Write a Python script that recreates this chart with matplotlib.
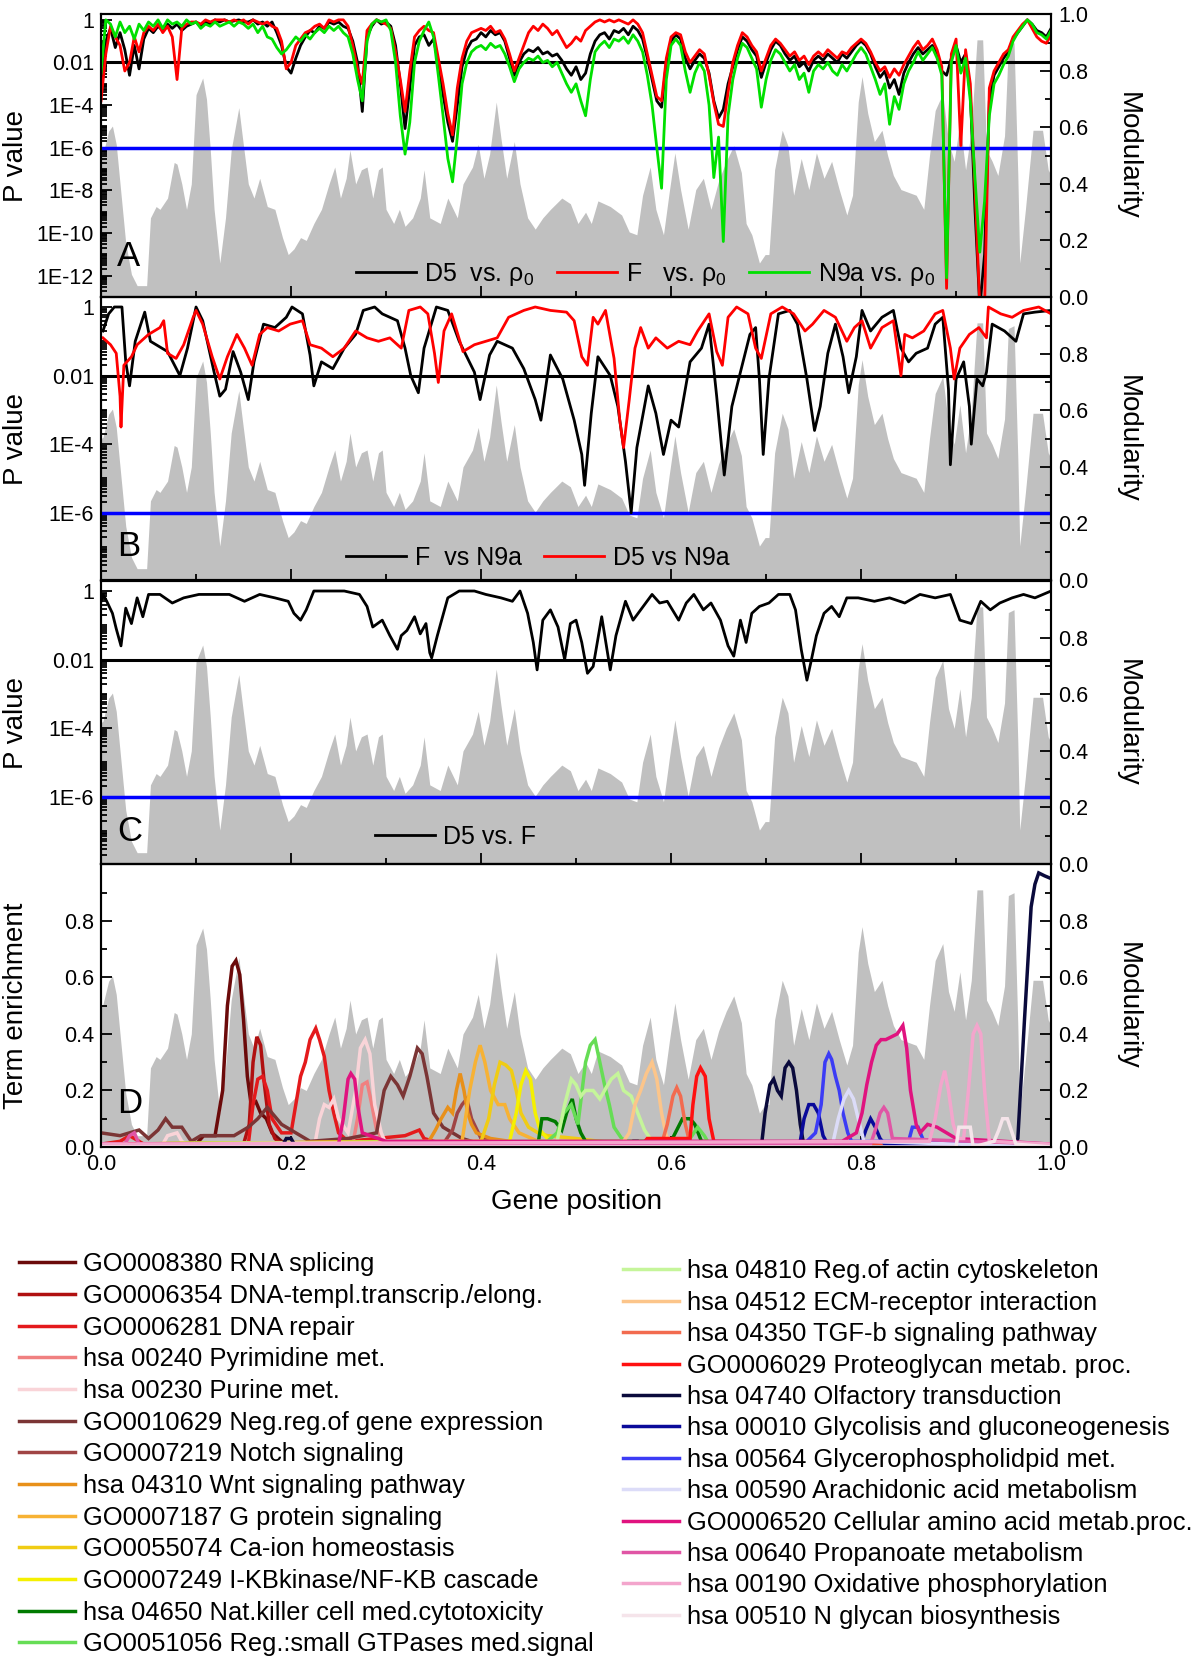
import numpy as np
import matplotlib
matplotlib.use("Agg")
import matplotlib.pyplot as plt
from matplotlib.ticker import FixedLocator, LogLocator, MultipleLocator, NullFormatter

plt.rcParams['font.family'] = ['Liberation Sans', 'DejaVu Sans']
plt.rcParams['mathtext.fontset'] = 'custom'
plt.rcParams['mathtext.rm'] = 'Liberation Sans'
plt.rcParams['mathtext.it'] = 'Liberation Sans:italic'
plt.rcParams['mathtext.default'] = 'regular'

# ---- modularity profile (grey background, same in every panel) ----
mod_x = [0.0, 0.002, 0.008, 0.012, 0.016, 0.02, 0.026, 0.032, 0.038, 0.048,
         0.052, 0.058, 0.062, 0.07, 0.077, 0.08, 0.085, 0.09, 0.095, 0.1,
         0.107, 0.111, 0.115, 0.119, 0.125, 0.131, 0.137, 0.145, 0.149, 0.155,
         0.161, 0.167, 0.175, 0.183, 0.191, 0.197, 0.203, 0.21, 0.216, 0.224,
         0.232, 0.24, 0.246, 0.252, 0.258, 0.262, 0.268, 0.274, 0.28, 0.286,
         0.292, 0.296, 0.3, 0.308, 0.314, 0.32, 0.328, 0.336, 0.34, 0.346,
         0.357, 0.365, 0.375, 0.381, 0.391, 0.397, 0.403, 0.409, 0.416, 0.421,
         0.427, 0.435, 0.441, 0.449, 0.457, 0.465, 0.473, 0.485, 0.494, 0.502,
         0.51, 0.516, 0.523, 0.536, 0.548, 0.556, 0.564, 0.57, 0.578, 0.584,
         0.592, 0.598, 0.604, 0.61, 0.618, 0.626, 0.634, 0.642, 0.65, 0.658,
         0.666, 0.674, 0.679, 0.685, 0.693, 0.699, 0.703, 0.709, 0.717, 0.723,
         0.729, 0.737, 0.745, 0.753, 0.761, 0.769, 0.777, 0.785, 0.791, 0.797,
         0.801, 0.807, 0.814, 0.822, 0.828, 0.834, 0.842, 0.85, 0.858, 0.866,
         0.872, 0.878, 0.886, 0.892, 0.898, 0.904, 0.91, 0.916, 0.922, 0.928,
         0.932, 0.938, 0.944, 0.951, 0.955, 0.961, 0.965, 0.967, 0.973, 0.981,
         0.991, 0.997, 1.0]
mod_y = [0.50, 0.505, 0.587, 0.605, 0.54, 0.40, 0.19, 0.08, 0.04, 0.04,
         0.28, 0.32, 0.31, 0.35, 0.476, 0.47, 0.40, 0.31, 0.40, 0.716,
         0.775, 0.70, 0.52, 0.31, 0.12, 0.28, 0.52, 0.67, 0.56, 0.40,
         0.35, 0.42, 0.32, 0.31, 0.21, 0.15, 0.17, 0.21, 0.20, 0.26,
         0.31, 0.40, 0.46, 0.35, 0.42, 0.52, 0.40, 0.45, 0.46, 0.35,
         0.45, 0.46, 0.31, 0.26, 0.31, 0.25, 0.28, 0.35, 0.45, 0.28,
         0.26, 0.35, 0.28, 0.40, 0.46, 0.54, 0.42, 0.505, 0.69, 0.56,
         0.42, 0.55, 0.40, 0.28, 0.24, 0.28, 0.31, 0.35, 0.33, 0.26,
         0.30, 0.26, 0.34, 0.32, 0.29, 0.23, 0.22, 0.36, 0.46, 0.31,
         0.22, 0.37, 0.51, 0.38, 0.24, 0.38, 0.42, 0.31, 0.41, 0.48,
         0.535, 0.44, 0.26, 0.22, 0.12, 0.15, 0.15, 0.45, 0.59, 0.535,
         0.36, 0.49, 0.38, 0.51, 0.42, 0.48, 0.38, 0.29, 0.36, 0.69,
         0.78, 0.65, 0.55, 0.59, 0.50, 0.43, 0.38, 0.37, 0.36, 0.31,
         0.50, 0.66, 0.72, 0.55, 0.48, 0.62, 0.45, 0.59, 0.91, 0.91,
         0.52, 0.48, 0.43, 0.57, 0.89, 0.90, 0.43, 0.12, 0.31, 0.59,
         0.59, 0.45, 0.43]

# ---- panel A: log10(P) on a 0.005 grid ----
grid_a = np.linspace(0, 1, 201)
a_d5 = [-3.0, -1.0, -0.4, -1.3, -0.6, -1.4, -2.6, -1.2, -2.3, -0.9, -0.4, -0.6, -0.3, -0.5, -0.2, -0.4, -0.2, -0.5, -0.3, -0.2,
        -0.1, -0.3, -0.1, -0.2, 0.0, -0.1, 0.0, -0.1, -0.05, 0.0, -0.1, -0.1, 0.0, -0.2, -0.1, -0.3, -0.1, -0.6, -1.2, -2.2,
        -2.5, -1.8, -1.2, -0.8, -0.5, -0.6, -0.3, -0.4, -0.1, -0.2, -0.1, -0.3, -0.4, -1.0, -2.0, -4.3, -0.8, -0.3, 0.0, -0.2,
        -0.1, -0.3, -1.2, -3.0, -5.1, -3.2, -1.2, -0.8, -0.7, -1.2, -0.9, -2.0, -3.5, -4.8, -5.7, -4.0, -2.2, -1.4, -1.0, -0.9,
        -0.6, -0.8, -0.5, -0.7, -0.6, -1.0, -1.8, -2.6, -2.0, -1.6, -1.4, -1.5, -1.3, -1.6, -1.5, -1.7, -1.6, -1.9, -2.3, -2.6,
        -2.2, -2.8, -2.5, -1.6, -1.0, -0.7, -0.6, -0.9, -0.5, -0.6, -0.4, -0.7, -0.3, -0.5, -0.9, -1.8, -2.8, -3.8, -4.1, -2.0,
        -1.0, -0.7, -0.9, -1.8, -2.3, -1.9, -1.6, -1.8, -2.5, -3.8, -4.6, -4.2, -3.0, -2.2, -1.4, -0.8, -1.0, -1.4, -1.7, -2.7,
        -2.0, -1.4, -1.0, -1.2, -1.6, -1.9, -1.7, -2.2, -2.0, -2.4, -1.9, -1.7, -1.9, -1.6, -1.8, -2.0, -1.6, -1.8, -1.5, -1.2,
        -1.0, -1.2, -1.6, -2.2, -2.7, -2.4, -3.2, -2.8, -3.5, -2.5, -2.0, -1.6, -1.3, -1.6, -1.4, -1.2, -1.6, -2.4, -2.6, -1.8,
        -1.2, -2.0, -1.6, -3.5, -9.0, -13.5, -11.0, -3.8, -2.6, -2.2, -1.8, -1.5, -0.9, -0.6, -0.3, 0.0, -0.2, -0.5, -0.6, -0.8,
        -0.4]
a_f = [-3.8, -1.6, -0.3, -0.8, -1.2, -2.4, -2.0, -0.8, -1.5, -0.6, -0.3, -0.5, -0.2, -0.6, -0.3, -0.8, -2.8, -0.4, -0.2, -0.1,
       -0.1, -0.2, 0.0, -0.1, 0.0, 0.0, 0.0, -0.1, 0.0, -0.1, 0.0, -0.2, 0.0, -0.1, -0.2, -0.1, -0.3, -0.4, -1.0, -2.3,
       -2.0, -1.2, -0.9, -0.6, -0.5, -0.3, -0.2, -0.4, 0.0, -0.1, 0.0, 0.0, -0.3, -1.2, -2.3, -3.0, -0.5, -0.2, 0.0, -0.1,
       -0.2, -0.4, -1.5, -2.8, -4.3, -2.4, -0.8, -0.5, -0.3, -0.5, -0.6, -1.8, -3.0, -4.4, -5.4, -3.2, -1.8, -1.0, -0.6, -0.5,
       -0.4, -0.5, -0.3, -0.6, -0.5, -0.9, -1.6, -2.4, -1.8, -1.2, -0.6, -0.3, -0.5, -0.2, -0.4, -0.7, -0.5, -0.9, -1.3, -1.1,
       -0.8, -1.0, -0.5, -0.3, -0.1, 0.0, -0.1, 0.0, -0.1, 0.0, -0.1, -0.2, 0.0, -0.2, -0.6, -1.6, -2.6, -3.6, -3.8, -1.8,
       -0.8, -0.6, -0.7, -1.5, -2.0, -1.7, -1.4, -1.6, -2.6, -3.9, -4.9, -5.0, -3.4, -2.0, -1.2, -0.6, -0.8, -1.2, -1.5, -2.4,
       -1.8, -1.2, -0.9, -1.1, -1.4, -1.7, -1.5, -1.9, -1.7, -2.1, -1.7, -1.5, -1.7, -1.4, -1.6, -1.8, -1.5, -1.6, -1.3, -1.1,
       -0.9, -1.1, -1.5, -2.0, -2.4, -2.2, -2.7, -2.3, -2.6, -2.1, -1.7, -1.3, -1.0, -1.4, -1.2, -0.9, -1.4, -2.2, -12.6, -1.6,
       -0.9, -5.9, -1.4, -3.0, -8.0, -13.5, -13.5, -3.2, -2.4, -2.0, -1.6, -1.4, -0.8, -0.5, -0.2, 0.0, -0.4, -0.8, -1.0, -1.1,
       -0.7]
a_n9a = [-2.5, 0.0, -0.2, -0.8, -0.1, -0.6, -0.3, -0.9, -0.2, -0.5, -0.1, -0.3, 0.0, -0.4, 0.0, -0.2, -0.1, -0.3, 0.0, -0.2,
         -0.1, -0.4, -0.2, -0.3, -0.1, -0.3, -0.2, -0.1, -0.3, -0.1, -0.2, -0.4, -0.2, -0.6, -0.3, -0.8, -0.9, -1.3, -1.6, -1.4,
         -1.1, -0.8, -1.0, -0.7, -0.9, -0.6, -0.4, -0.6, -0.3, -0.5, -0.3, -0.6, -0.8, -1.6, -2.8, -3.8, -1.0, -0.2, 0.0, -0.1,
         0.0, -0.5, -2.0, -4.5, -6.3, -4.8, -2.0, -1.0, -0.5, -0.1, -0.8, -2.6, -4.5, -6.5, -7.6, -5.5, -3.0, -2.0, -1.5, -1.3,
         -1.2, -1.4, -1.1, -1.3, -1.2, -1.6, -2.2, -2.9, -2.3, -2.0, -1.8, -1.9, -1.7, -2.0, -1.9, -2.2, -2.0, -2.5, -3.0, -3.4,
         -3.0, -3.8, -4.5, -2.8, -1.5, -1.2, -1.0, -1.3, -0.9, -1.0, -0.8, -1.1, -0.7, -1.0, -1.5, -2.6, -4.0, -6.0, -7.9, -2.8,
         -1.2, -0.9, -1.2, -2.4, -3.4, -2.5, -2.0, -2.4, -4.0, -7.4, -5.5, -10.4, -4.5, -2.8, -1.8, -1.1, -1.3, -1.8, -2.3, -4.1,
         -2.8, -1.9, -1.4, -1.6, -2.0, -2.4, -2.1, -2.8, -2.5, -3.4, -2.4, -2.1, -2.3, -2.0, -2.4, -2.6, -2.1, -2.4, -2.0, -1.6,
         -1.3, -1.6, -2.2, -2.8, -3.5, -3.0, -4.9, -3.6, -4.2, -3.0, -2.4, -2.0, -1.5, -1.9, -1.6, -1.3, -1.8, -2.6, -12.1, -2.0,
         -1.2, -2.5, -1.8, -3.8, -7.5, -10.9, -8.5, -4.5, -3.0, -2.6, -2.1, -1.7, -1.0, -0.6, -0.3, 0.0, -0.2, -0.6, -0.7, -0.9,
         -0.5]

# ---- panel B: log10(P) ----
b_f_x = [0.002, 0.008, 0.014, 0.022, 0.026, 0.03, 0.036, 0.046, 0.052, 0.058,
         0.07, 0.083, 0.091, 0.1, 0.107, 0.119, 0.125, 0.131, 0.139, 0.147,
         0.155, 0.161, 0.171, 0.183, 0.195, 0.201, 0.212, 0.22, 0.224, 0.232,
         0.244, 0.256, 0.268, 0.276, 0.288, 0.296, 0.312, 0.32, 0.326, 0.334,
         0.34, 0.353, 0.365, 0.377, 0.393, 0.399, 0.409, 0.417, 0.433, 0.445,
         0.457, 0.463, 0.473, 0.486, 0.498, 0.506, 0.509, 0.516, 0.523, 0.536,
         0.544, 0.552, 0.558, 0.564, 0.576, 0.584, 0.592, 0.6, 0.608, 0.62,
         0.632, 0.64, 0.648, 0.656, 0.664, 0.673, 0.683, 0.689, 0.693, 0.697,
         0.703, 0.713, 0.725, 0.733, 0.743, 0.751, 0.757, 0.765, 0.773, 0.781,
         0.787, 0.795, 0.801, 0.81, 0.822, 0.834, 0.842, 0.85, 0.858, 0.87,
         0.878, 0.886, 0.892, 0.894, 0.9, 0.908, 0.914, 0.916, 0.922, 0.928,
         0.932, 0.938, 0.951, 0.963, 0.971, 0.983, 1.0]
b_f_y = [-0.7, -0.2, 0.0, 0.0, -1.6, -2.3, -1.0, -0.15, -1.0, -1.1,
         -1.3, -2.0, -1.2, 0.0, -0.4, -1.9, -2.6, -2.4, -1.3, -1.9,
         -2.7, -1.6, -0.5, -0.6, -0.3, 0.0, -0.2, -1.4, -2.3, -1.6,
         -1.8, -1.2, -0.8, -0.1, 0.0, -0.2, -0.4, -1.2, -2.0, -2.5,
         -1.2, 0.0, -0.1, -1.0, -1.9, -2.7, -1.4, -1.0, -1.2, -1.8,
         -2.7, -3.3, -1.4, -2.1, -3.3, -4.3, -5.2, -3.1, -1.45, -2.0,
         -2.9, -4.5, -6.0, -4.1, -2.3, -3.1, -4.3, -3.3, -3.5, -1.6,
         -1.2, -0.5, -2.6, -4.9, -2.9, -1.9, -0.8, -0.6, -2.1, -4.3,
         -2.1, -0.2, -0.1, -0.5, -2.1, -3.6, -2.9, -1.35, -0.5, -1.45,
         -2.5, -1.45, -0.1, -0.7, -0.3, -0.1, -1.2, -1.6, -1.35, -1.2,
         -0.5, -0.3, -2.4, -4.6, -2.1, -1.6, -2.9, -4.0, -2.1, -2.3,
         -1.9, -0.5, -0.7, -1.0, -0.2, -0.15, -0.1]
b_d5_x = [0.002, 0.01, 0.016, 0.02, 0.021, 0.024, 0.032, 0.038, 0.05, 0.062,
          0.066, 0.07, 0.079, 0.087, 0.097, 0.1, 0.107, 0.117, 0.125, 0.133,
          0.143, 0.151, 0.159, 0.167, 0.175, 0.187, 0.199, 0.212, 0.22, 0.232,
          0.244, 0.256, 0.268, 0.28, 0.292, 0.304, 0.316, 0.324, 0.336, 0.344,
          0.351, 0.355, 0.361, 0.369, 0.381, 0.393, 0.405, 0.417, 0.429, 0.445,
          0.457, 0.473, 0.49, 0.498, 0.506, 0.512, 0.518, 0.523, 0.531, 0.54,
          0.546, 0.55, 0.556, 0.562, 0.568, 0.576, 0.584, 0.596, 0.608, 0.62,
          0.628, 0.64, 0.648, 0.654, 0.66, 0.669, 0.681, 0.689, 0.695, 0.705,
          0.717, 0.729, 0.741, 0.749, 0.761, 0.773, 0.785, 0.793, 0.801, 0.81,
          0.822, 0.834, 0.842, 0.846, 0.854, 0.866, 0.878, 0.886, 0.894, 0.898,
          0.904, 0.914, 0.924, 0.932, 0.934, 0.947, 0.959, 0.971, 0.987, 1.0]
b_d5_y = [-0.9, -1.1, -1.35, -2.6, -3.5, -1.7, -1.45, -1.1, -0.8, -0.6,
          -0.4, -1.35, -1.5, -1.1, -0.3, -0.1, -0.5, -1.45, -2.1, -1.45,
          -0.8, -1.2, -1.7, -0.8, -0.6, -0.7, -0.5, -0.4, -1.1, -1.2,
          -1.45, -1.2, -0.7, -0.9, -1.0, -0.9, -1.2, -0.1, 0.0, -0.2,
          -1.35, -2.2, -0.7, -0.2, -1.3, -1.1, -1.0, -0.9, -0.3, -0.1,
          0.0, -0.1, -0.15, -0.4, -1.45, -1.7, -0.3, -0.5, -0.1, -1.5,
          -3.3, -4.1, -2.7, -1.2, -0.6, -1.2, -0.9, -1.2, -1.0, -1.1,
          -0.7, -0.2, -1.3, -1.7, -0.3, 0.0, -0.2, -1.2, -1.5, -0.2,
          0.0, -0.2, -0.7, -0.5, -0.1, -0.3, -1.0, -0.6, -0.4, -1.2,
          -0.6, -0.4, -2.0, -0.8, -0.9, -0.7, -0.2, -0.1, -1.2, -2.1,
          -1.2, -0.8, -0.6, -0.9, 0.0, -0.2, -0.3, -0.1, 0.0, -0.2]

# ---- panel C: log10(P) ----
c_x = [0.0, 0.002, 0.006, 0.012, 0.016, 0.021, 0.026, 0.032, 0.038, 0.044,
       0.05, 0.062, 0.075, 0.087, 0.103, 0.119, 0.135, 0.151, 0.167, 0.183,
       0.197, 0.203, 0.21, 0.216, 0.224, 0.24, 0.256, 0.272, 0.28, 0.286,
       0.296, 0.304, 0.312, 0.316, 0.322, 0.33, 0.336, 0.342, 0.346, 0.348,
       0.354, 0.365, 0.377, 0.393, 0.405, 0.421, 0.433, 0.441, 0.449, 0.455,
       0.459, 0.465, 0.473, 0.481, 0.488, 0.494, 0.5, 0.506, 0.512, 0.518,
       0.527, 0.536, 0.542, 0.552, 0.56, 0.568, 0.58, 0.588, 0.596, 0.608,
       0.616, 0.624, 0.634, 0.642, 0.652, 0.66, 0.666, 0.673, 0.679, 0.685,
       0.693, 0.703, 0.713, 0.725, 0.731, 0.737, 0.743, 0.747, 0.753, 0.761,
       0.769, 0.777, 0.785, 0.797, 0.814, 0.83, 0.846, 0.862, 0.878, 0.894,
       0.904, 0.916, 0.926, 0.936, 0.946, 0.959, 0.971, 0.983, 1.0]
c_y = [-0.3, -0.1, -0.3, -0.65, -1.1, -1.6, -0.5, -0.95, -0.2, -0.75,
       -0.1, -0.1, -0.35, -0.2, -0.1, -0.1, -0.1, -0.3, -0.1, -0.2,
       -0.3, -0.65, -0.85, -0.55, 0.0, 0.0, 0.0, -0.1, -0.45, -1.05,
       -0.85, -1.3, -1.7, -1.3, -1.15, -0.75, -1.25, -0.95, -1.8, -1.95,
       -1.3, -0.2, 0.0, 0.0, -0.1, -0.2, -0.3, 0.0, -0.65, -1.5,
       -2.3, -0.85, -0.55, -1.05, -2.0, -0.95, -0.85, -1.5, -2.4, -2.2,
       -0.75, -2.3, -1.3, -0.3, -0.85, -0.55, -0.1, -0.35, -0.3, -0.85,
       -0.35, -0.1, -0.55, -0.35, -0.85, -1.6, -1.9, -0.85, -1.5, -0.65,
       -0.45, -0.35, -0.1, -0.1, -0.55, -1.7, -2.6, -2.1, -1.3, -0.65,
       -0.45, -0.75, -0.2, -0.2, -0.3, -0.2, -0.35, -0.1, -0.2, -0.1,
       -0.85, -0.95, -0.3, -0.55, -0.35, -0.2, -0.1, -0.2, 0.0]

# ---- panel D: term enrichment ----
term_labels = ['GO0008380 RNA splicing', 'GO0006354 DNA-templ.transcrip./elong.',
               'GO0006281 DNA repair', 'hsa 00240 Pyrimidine met.', 'hsa 00230 Purine met.',
               'GO0010629 Neg.reg.of gene expression', 'GO0007219 Notch signaling',
               'hsa 04310 Wnt signaling pathway', 'GO0007187 G protein signaling',
               'GO0055074 Ca-ion homeostasis', 'GO0007249 I-KBkinase/NF-KB cascade',
               'hsa 04650 Nat.killer cell med.cytotoxicity', 'GO0051056 Reg.:small GTPases med.signal',
               'hsa 04810 Reg.of actin cytoskeleton', 'hsa 04512 ECM-receptor interaction',
               'hsa 04350 TGF-b signaling pathway', 'GO0006029 Proteoglycan metab. proc.',
               'hsa 04740 Olfactory transduction', 'hsa 00010 Glycolisis and gluconeogenesis',
               'hsa 00564 Glycerophospholidpid met.', 'hsa 00590 Arachidonic acid metabolism',
               'GO0006520 Cellular amino acid metab.proc.', 'hsa 00640 Propanoate metabolism',
               'hsa 00190 Oxidative phosphorylation', 'hsa 00510 N glycan biosynthesis']
term_colors = ['#6b0a0a', '#b01010', '#e41a1c', '#f08080', '#f9d4d8',
               '#7b3535', '#a04545', '#e8901a', '#f7b234', '#f0cc14',
               '#f5f000', '#007a00', '#66dd55', '#c5f59a', '#fcc58a',
               '#f26b4f', '#ff1010', '#0a0a3c', '#0a0a9a', '#3c3cf5',
               '#dcdcf8', '#e0137f', '#e055a5', '#f3a5cc', '#f5e4ea']
term_x = [
    [0.0, 0.1, 0.108, 0.12, 0.128, 0.133, 0.138, 0.142, 0.146, 0.15, 0.154, 0.158, 0.163, 0.168, 0.174, 0.18, 0.19, 0.2, 0.3, 0.5, 1.0],
    [0.0, 0.15, 0.156, 0.16, 0.164, 0.168, 0.172, 0.177, 0.183, 0.19, 0.3, 1.0],
    [0.0, 0.02, 0.03, 0.035, 0.045, 0.155, 0.16, 0.165, 0.17, 0.175, 0.18, 0.19, 0.2, 0.205, 0.21, 0.215, 0.22, 0.226, 0.23, 0.235, 0.24, 0.245, 0.25, 0.26, 0.29, 0.32, 0.335, 0.34, 0.36, 1.0],
    [0.0, 0.265, 0.27, 0.275, 0.28, 0.285, 0.29, 0.3, 1.0],
    [0.0, 0.065, 0.07, 0.08, 0.085, 0.09, 0.225, 0.23, 0.235, 0.24, 0.245, 0.25, 0.26, 0.268, 0.273, 0.278, 0.283, 0.288, 0.295, 0.3, 1.0],
    [0.0, 0.02, 0.04, 0.05, 0.06, 0.068, 0.075, 0.085, 0.095, 0.105, 0.14, 0.155, 0.165, 0.175, 0.18, 0.19, 0.2, 0.22, 0.26, 0.29, 0.298, 0.305, 0.312, 0.318, 0.325, 0.333, 0.338, 0.343, 0.35, 0.36, 0.38, 0.4, 1.0],
    [0.0, 0.36, 0.37, 0.375, 0.38, 0.385, 0.39, 0.4, 0.43, 1.0],
    [0.0, 0.345, 0.352, 0.358, 0.365, 0.37, 0.374, 0.378, 0.382, 0.386, 0.39, 0.395, 0.41, 0.43, 0.45, 1.0],
    [0.0, 0.38, 0.388, 0.394, 0.399, 0.404, 0.41, 0.418, 0.425, 0.43, 0.44, 0.46, 1.0],
    [0.0, 0.4, 0.408, 0.414, 0.42, 0.426, 0.432, 0.437, 0.442, 0.45, 0.46, 0.47, 0.5, 0.55, 1.0],
    [0.0, 0.43, 0.437, 0.442, 0.447, 0.452, 0.457, 0.462, 0.47, 0.48, 1.0],
    [0.0, 0.46, 0.464, 0.47, 0.478, 0.485, 0.49, 0.496, 0.5, 0.505, 0.51, 0.54, 0.6, 0.612, 0.62, 0.625, 0.632, 0.66, 1.0],
    [0.0, 0.47, 0.48, 0.487, 0.495, 0.502, 0.51, 0.515, 0.52, 0.525, 0.53, 0.535, 0.54, 0.548, 0.555, 0.6, 0.62, 0.628, 0.635, 0.64, 1.0],
    [0.0, 0.48, 0.488, 0.495, 0.5, 0.505, 0.51, 0.518, 0.525, 0.53, 0.537, 0.544, 0.55, 0.558, 0.565, 0.572, 0.58, 0.6, 1.0],
    [0.0, 0.55, 0.556, 0.562, 0.568, 0.574, 0.58, 0.585, 0.59, 0.595, 0.6, 1.0],
    [0.0, 0.59, 0.596, 0.602, 0.606, 0.61, 0.615, 0.62, 1.0],
    [0.0, 0.57, 0.575, 0.6, 0.62, 0.623, 0.627, 0.631, 0.636, 0.64, 0.645, 1.0],
    [0.0, 0.19, 0.195, 0.2, 0.205, 0.55, 0.56, 0.565, 0.57, 0.695, 0.699, 0.704, 0.708, 0.712, 0.716, 0.72, 0.724, 0.728, 0.732, 0.736, 0.74, 0.96, 0.965, 0.972, 0.979, 0.983, 0.987, 0.993, 1.0],
    [0.0, 0.735, 0.74, 0.745, 0.75, 0.755, 0.76, 0.765, 0.8, 0.805, 0.81, 0.815, 0.82, 0.825, 1.0],
    [0.0, 0.74, 0.752, 0.758, 0.762, 0.766, 0.769, 0.773, 0.777, 0.781, 0.786, 0.79, 0.85, 0.854, 0.86, 0.866, 1.0],
    [0.0, 0.77, 0.776, 0.782, 0.787, 0.792, 0.797, 0.803, 1.0],
    [0.0, 0.25, 0.255, 0.26, 0.263, 0.267, 0.27, 0.275, 0.3, 0.78, 0.795, 0.801, 0.806, 0.811, 0.816, 0.821, 0.826, 0.832, 0.838, 0.844, 0.848, 0.852, 0.858, 0.862, 0.87, 0.88, 0.89, 0.9, 1.0],
    [0.0, 0.025, 0.03, 0.035, 0.04, 0.81, 0.815, 0.82, 0.824, 0.828, 0.833, 1.0],
    [0.0, 0.872, 0.878, 0.884, 0.888, 0.892, 0.897, 0.902, 0.908, 0.913, 0.918, 0.922, 0.926, 0.93, 0.935, 1.0],
    [0.0, 0.9, 0.903, 0.915, 0.918, 0.94, 0.945, 0.949, 0.954, 0.958, 0.963, 1.0],
]
term_y = [
    [0.01, 0.01, 0.04, 0.04, 0.2, 0.5, 0.64, 0.66, 0.61, 0.45, 0.25, 0.15, 0.16, 0.12, 0.1, 0.05, 0.02, 0.01, 0.01, 0.01, 0.01],
    [0.01, 0.01, 0.08, 0.3, 0.39, 0.36, 0.22, 0.08, 0.03, 0.01, 0.01, 0.01],
    [0.01, 0.02, 0.04, 0.03, 0.01, 0.01, 0.15, 0.24, 0.25, 0.2, 0.1, 0.05, 0.05, 0.15, 0.25, 0.3, 0.38, 0.42, 0.38, 0.32, 0.2, 0.12, 0.05, 0.02, 0.03, 0.04, 0.06, 0.03, 0.01, 0.01],
    [0.01, 0.01, 0.1, 0.22, 0.23, 0.15, 0.06, 0.01, 0.01],
    [0.01, 0.01, 0.04, 0.05, 0.02, 0.01, 0.01, 0.1, 0.15, 0.14, 0.17, 0.1, 0.05, 0.2, 0.35, 0.38, 0.33, 0.15, 0.05, 0.01, 0.01],
    [0.05, 0.04, 0.06, 0.03, 0.06, 0.1, 0.07, 0.07, 0.02, 0.04, 0.04, 0.07, 0.1, 0.14, 0.12, 0.08, 0.06, 0.02, 0.03, 0.05, 0.2, 0.25, 0.22, 0.18, 0.25, 0.35, 0.33, 0.25, 0.12, 0.07, 0.03, 0.01, 0.01],
    [0.01, 0.01, 0.06, 0.12, 0.15, 0.17, 0.1, 0.03, 0.01, 0.01],
    [0.01, 0.02, 0.06, 0.1, 0.14, 0.12, 0.2, 0.26, 0.2, 0.12, 0.08, 0.05, 0.03, 0.02, 0.01, 0.01],
    [0.01, 0.02, 0.2, 0.3, 0.36, 0.3, 0.2, 0.15, 0.15, 0.1, 0.05, 0.02, 0.01],
    [0.01, 0.02, 0.1, 0.22, 0.3, 0.29, 0.27, 0.2, 0.12, 0.07, 0.05, 0.04, 0.03, 0.01, 0.01],
    [0.01, 0.02, 0.12, 0.22, 0.27, 0.24, 0.12, 0.06, 0.03, 0.01, 0.01],
    [0.01, 0.01, 0.1, 0.1, 0.09, 0.06, 0.12, 0.17, 0.1, 0.05, 0.02, 0.02, 0.02, 0.1, 0.1, 0.08, 0.02, 0.01, 0.01],
    [0.01, 0.02, 0.05, 0.12, 0.15, 0.08, 0.3, 0.36, 0.38, 0.3, 0.22, 0.15, 0.07, 0.03, 0.02, 0.02, 0.03, 0.07, 0.04, 0.01, 0.01],
    [0.01, 0.02, 0.15, 0.24, 0.22, 0.18, 0.2, 0.2, 0.17, 0.2, 0.24, 0.26, 0.2, 0.18, 0.12, 0.06, 0.02, 0.01, 0.01],
    [0.01, 0.02, 0.05, 0.15, 0.2, 0.26, 0.3, 0.24, 0.12, 0.04, 0.01, 0.01],
    [0.01, 0.01, 0.08, 0.18, 0.21, 0.18, 0.08, 0.01, 0.01],
    [0.01, 0.01, 0.03, 0.03, 0.03, 0.15, 0.25, 0.28, 0.25, 0.1, 0.02, 0.01],
    [0.0, 0.0, 0.03, 0.03, 0.0, 0.0, 0.02, 0.02, 0.0, 0.0, 0.12, 0.22, 0.24, 0.2, 0.18, 0.28, 0.3, 0.28, 0.2, 0.08, 0.0, 0.0, 0.03, 0.45, 0.85, 0.93, 0.97, 0.96, 0.95],
    [0.0, 0.0, 0.1, 0.15, 0.15, 0.12, 0.04, 0.01, 0.01, 0.06, 0.1, 0.07, 0.03, 0.01, 0.0],
    [0.0, 0.01, 0.05, 0.15, 0.3, 0.33, 0.31, 0.25, 0.2, 0.12, 0.05, 0.02, 0.02, 0.07, 0.07, 0.02, 0.0],
    [0.0, 0.01, 0.1, 0.17, 0.2, 0.17, 0.1, 0.02, 0.0],
    [0.01, 0.01, 0.1, 0.24, 0.26, 0.24, 0.15, 0.05, 0.02, 0.02, 0.05, 0.12, 0.22, 0.3, 0.36, 0.38, 0.38, 0.39, 0.4, 0.43, 0.35, 0.2, 0.08, 0.05, 0.08, 0.07, 0.05, 0.03, 0.01],
    [0.01, 0.01, 0.04, 0.05, 0.01, 0.01, 0.06, 0.12, 0.14, 0.12, 0.03, 0.01],
    [0.01, 0.02, 0.1, 0.22, 0.27, 0.2, 0.08, 0.03, 0.03, 0.2, 0.4, 0.43, 0.4, 0.2, 0.02, 0.01],
    [0.0, 0.0, 0.07, 0.07, 0.0, 0.02, 0.06, 0.1, 0.1, 0.06, 0.01, 0.0],
]

p_ticks = [1, 1e-2, 1e-4, 1e-6, 1e-8, 1e-10, 1e-12]
p_tick_labels = ['1', '0.01', '1E-4', '1E-6', '1E-8', '1E-10', '1E-12']

GREY = '#c0c0c0'
TICK_FS = 15.5
LABEL_FS = 20
LEG_FS = 18
TRACE_LW = 2.0

fig = plt.figure(figsize=(12, 16.57), dpi=100)
left, width = 0.0842, 0.7917
panel_bottoms = [0.8208, 0.6500, 0.4786, 0.3078]
panel_h = 0.1705


def setup_panel(bottom, log_left, ylim, nlab):
    ax = fig.add_axes([left, bottom, width, panel_h])
    tw = ax.twinx()
    tw.fill_between(mod_x, 0, mod_y, color=GREY, lw=0)
    tw.set_ylim(0, 1.0)
    ax.set_zorder(tw.get_zorder() + 1)
    ax.patch.set_visible(False)
    ax.set_xlim(0, 1)
    if log_left:
        ax.set_yscale('log')
        ax.yaxis.set_major_locator(FixedLocator(p_ticks[:nlab]))
        ax.set_yticklabels(p_tick_labels[:nlab])
        ax.yaxis.set_minor_locator(LogLocator(base=10, subs=np.arange(1, 10), numticks=200))
        ax.yaxis.set_minor_formatter(NullFormatter())
    ax.set_ylim(*ylim)
    ax.xaxis.set_major_locator(MultipleLocator(0.2))
    ax.xaxis.set_minor_locator(MultipleLocator(0.1))
    ax.tick_params(which='both', direction='in', top=False, right=False,
                   labelsize=TICK_FS, width=1.3, pad=5)
    ax.tick_params(which='major', length=8)
    ax.tick_params(which='minor', length=4)
    tw.tick_params(which='both', direction='in', labelsize=TICK_FS, width=1.3, pad=5)
    tw.tick_params(which='major', length=8)
    tw.tick_params(which='minor', length=4)
    tw.yaxis.set_minor_locator(MultipleLocator(0.1))
    for sp in list(ax.spines.values()) + list(tw.spines.values()):
        sp.set_linewidth(1.5)
    tw.set_ylabel('Modularity', fontsize=LABEL_FS, rotation=270)
    tw.yaxis.set_label_coords(1.094, 0.5)
    return ax, tw


# ---------------- A ----------------
axA, twA = setup_panel(panel_bottoms[0], True, (1e-13, 1.8), 7)
twA.set_yticks([0, 0.2, 0.4, 0.6, 0.8, 1.0])
twA.set_yticklabels(['0.0', '0.2', '0.4', '0.6', '0.8', '1.0'])
axA.axhline(1e-2, color='black', lw=2.2)
axA.axhline(1e-6, color='#0000ff', lw=2.5)
lA1, = axA.plot(grid_a, 10 ** np.array(a_d5), color='black', lw=TRACE_LW)
lA2, = axA.plot(grid_a, 10 ** np.array(a_f), color='#ff0000', lw=TRACE_LW)
lA3, = axA.plot(grid_a, 10 ** np.array(a_n9a), color='#00e000', lw=TRACE_LW)
axA.legend([lA1, lA2, lA3], ['D5  vs. ρ$_0$', 'F   vs. ρ$_0$', 'N9a vs. ρ$_0$'],
           loc='center left', bbox_to_anchor=(0.268, 0.08), ncol=3, frameon=False,
           borderaxespad=0, borderpad=0, handlelength=2.4, handletextpad=0.35,
           columnspacing=0.9, fontsize=LEG_FS)
axA.text(0.017, 0.085, 'A', transform=axA.transAxes, fontsize=25, va='bottom')
axA.set_ylabel('P value', fontsize=LABEL_FS)
axA.yaxis.set_label_coords(-0.076, 0.5)
axA.tick_params(labelbottom=False)

# ---------------- B ----------------
axB, twB = setup_panel(panel_bottoms[1], True, (1.1e-8, 1.9), 4)
twB.set_yticks([0, 0.2, 0.4, 0.6, 0.8])
twB.set_yticklabels(['0.0', '0.2', '0.4', '0.6', '0.8'])
axB.axhline(1e-2, color='black', lw=2.2)
axB.axhline(1e-6, color='#0000ff', lw=2.5)
lB1, = axB.plot(b_f_x, 10 ** np.array(b_f_y), color='black', lw=TRACE_LW)
lB2, = axB.plot(b_d5_x, 10 ** np.array(b_d5_y), color='#ff0000', lw=TRACE_LW)
axB.legend([lB1, lB2], ['F  vs N9a', 'D5 vs N9a'],
           loc='center left', bbox_to_anchor=(0.258, 0.078), ncol=2, frameon=False,
           borderaxespad=0, borderpad=0, handlelength=2.4, handletextpad=0.35,
           columnspacing=0.9, fontsize=LEG_FS)
axB.text(0.017, 0.06, 'B', transform=axB.transAxes, fontsize=25, va='bottom')
axB.set_ylabel('P value', fontsize=LABEL_FS)
axB.yaxis.set_label_coords(-0.076, 0.5)
axB.tick_params(labelbottom=False)

# ---------------- C ----------------
axC, twC = setup_panel(panel_bottoms[2], True, (1.1e-8, 1.9), 4)
twC.set_yticks([0, 0.2, 0.4, 0.6, 0.8])
twC.set_yticklabels(['0.0', '0.2', '0.4', '0.6', '0.8'])
axC.axhline(1e-2, color='black', lw=2.2)
axC.axhline(1e-6, color='#0000ff', lw=2.5)
lC1, = axC.plot(c_x, 10 ** np.array(c_y), color='black', lw=TRACE_LW)
axC.legend([lC1], ['D5 vs. F'], loc='center left', bbox_to_anchor=(0.288, 0.095),
           frameon=False, borderaxespad=0, borderpad=0, handlelength=2.4,
           handletextpad=0.35, fontsize=LEG_FS)
axC.text(0.017, 0.055, 'C', transform=axC.transAxes, fontsize=25, va='bottom')
axC.set_ylabel('P value', fontsize=LABEL_FS)
axC.yaxis.set_label_coords(-0.076, 0.5)
axC.tick_params(labelbottom=False)

# ---------------- D ----------------
axD, twD = setup_panel(panel_bottoms[3], False, (0, 1.0), 0)
twD.set_yticks([0, 0.2, 0.4, 0.6, 0.8])
twD.set_yticklabels(['0.0', '0.2', '0.4', '0.6', '0.8'])
axD.set_yticks([0, 0.2, 0.4, 0.6, 0.8])
axD.set_yticklabels(['0.0', '0.2', '0.4', '0.6', '0.8'])
axD.yaxis.set_minor_locator(MultipleLocator(0.1))
axD.set_xticks([0, 0.2, 0.4, 0.6, 0.8, 1.0])
axD.set_xticklabels(['0.0', '0.2', '0.4', '0.6', '0.8', '1.0'])
term_lines = []
for tx, ty, col in zip(term_x, term_y, term_colors):
    ln, = axD.plot(tx, ty, color=col, lw=2.5, solid_joinstyle='miter')
    term_lines.append(ln)
axD.text(0.017, 0.095, 'D', transform=axD.transAxes, fontsize=25, va='bottom')
axD.set_ylabel('Term enrichment', fontsize=LABEL_FS)
axD.yaxis.set_label_coords(-0.076, 0.5)
axD.set_xlabel('Gene position', fontsize=LABEL_FS, labelpad=10)

# ---------------- term legend ----------------
fig.legend(term_lines[:13], term_labels[:13], loc='upper left',
           bbox_to_anchor=(0.0158, 0.2442), frameon=False, fontsize=18.4,
           handlelength=2.2, handletextpad=0.3, labelspacing=0.3,
           borderpad=0, borderaxespad=0)
fig.legend(term_lines[13:], term_labels[13:], loc='upper left',
           bbox_to_anchor=(0.519, 0.2400), frameon=False, fontsize=18.4,
           handlelength=2.2, handletextpad=0.3, labelspacing=0.29,
           borderpad=0, borderaxespad=0)

fig.savefig('out.png', dpi=100)
